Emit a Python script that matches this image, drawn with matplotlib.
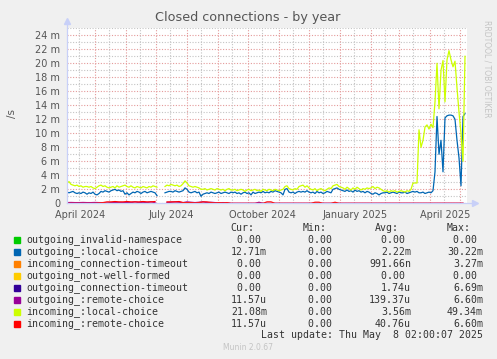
import numpy as np
import matplotlib
matplotlib.use("Agg")
import matplotlib.pyplot as plt
from matplotlib.patches import Rectangle

# time axis: 400 days ending Thu May 8 2025 02:00
start = np.datetime64("2024-04-03T02:00")
end = np.datetime64("2025-05-08T02:00")

# values in milli-connections per second, sampled every 2 days from start
nan = np.nan
local_out = [
    1.6, 1.5, 1.6, 1.7, 1.5, 1.4, 1.5, 1.4, 1.6, 1.5, 1.3, 1.5, 1.4, 1.6, 1.3, 1.2, 1.4, 1.7, 1.6, 1.8,
    1.7, 1.6, 1.8, 1.9, 2.0, 1.8, 1.9, 1.7, 1.8, 1.3, 1.5, 1.2, 1.4, 1.6, 1.5, 1.7, 1.6, 1.4, 1.6, 1.7,
    1.5, 1.6, 1.7, 1.6, 1.5, 1.1, nan, nan, nan, 1.5, 1.6, 1.7, 1.7, 1.6, 1.8, 1.7, 1.6, 1.7, 1.8, 2.2,
    2.0, 1.6, 1.5, 1.6, 1.7, 1.5, 1.6, 1.0, 1.3, 1.4, 1.5, 1.4, 1.6, 1.5, 1.4, 1.5, 1.6, 1.4, 1.5, 1.6,
    1.5, 1.4, 1.6, 1.5, 1.6, 1.4, 1.5, 1.3, 1.5, 1.6, 1.4, 1.5, 1.2, 1.6, 1.4, 1.5, 1.6, 1.5, 1.7, 1.5,
    1.6, 1.5, 1.7, 1.6, 1.8, 1.7, 1.6, 1.5, 1.2, 2.0, 2.1, 1.6, 1.5, 1.6, 1.4, 1.6, 1.7, 1.6, 1.7, 1.6,
    1.8, 1.6, 1.5, 1.6, 1.4, 1.7, 1.5, 1.6, 1.4, 1.5, 1.7, 1.6, 1.5, 2.0, 2.1, 2.2, 2.0, 1.9, 1.8, 1.7,
    1.9, 1.7, 1.8, 1.6, 1.9, 1.7, 1.8, 1.6, 1.7, 1.5, 1.7, 1.6, 1.4, 1.3, 1.5, 1.4, 1.2, 1.4, 1.5, 1.5,
    1.6, 1.4, 1.5, 1.6, 1.5, 1.4, 1.6, 1.5, 1.5, 1.6, 1.4, 1.5, 1.6, 1.7, 1.6, 1.7, 1.5, 1.5, 1.6, 1.4,
    1.5, 1.6, 1.5, 1.8, 4.5, 12.4, 7.0, 9.0, 4.5, 12.2, 12.5, 12.6, 12.6, 12.5, 12.0, 9.0, 6.5, 2.5, 12.4, 12.8,
]
local_in = [
    2.9, 3.1, 2.7, 2.6, 2.5, 2.6, 2.4, 2.5, 2.3, 2.4, 2.4, 2.3, 2.4, 2.2, 2.1, 2.3, 2.5, 2.6, 2.4, 2.5,
    2.3, 2.2, 2.3, 2.4, 2.2, 2.5, 2.3, 2.4, 2.5, 2.6, 2.4, 2.3, 2.5, 2.3, 2.2, 2.4, 2.3, 2.2, 2.4, 2.3,
    2.2, 2.4, 2.3, 2.5, 2.4, 2.3, nan, nan, nan, 2.4, 2.6, 2.5, 2.7, 2.6, 2.5, 2.6, 2.4, 2.5, 2.8, 3.2,
    2.9, 2.5, 2.4, 2.3, 2.4, 2.3, 2.2, 2.0, 2.0, 2.1, 1.9, 2.0, 2.1, 2.0, 1.9, 2.1, 2.0, 1.9, 2.0, 1.8,
    2.0, 2.1, 1.9, 1.9, 2.0, 1.8, 1.9, 2.0, 1.9, 1.7, 1.9, 2.0, 1.8, 1.9, 2.0, 1.8, 1.9, 1.7, 2.0, 1.9,
    1.8, 2.0, 1.9, 1.8, 2.0, 1.9, 1.8, 1.9, 2.0, 2.4, 2.5, 2.1, 2.0, 1.9, 2.1, 2.0, 2.4, 2.5, 2.6, 2.3,
    2.5, 2.2, 2.0, 1.9, 2.1, 1.8, 2.0, 2.1, 1.9, 1.8, 2.0, 2.2, 2.1, 2.5, 2.6, 2.7, 2.4, 2.3, 2.2, 2.0,
    2.3, 2.1, 1.9, 2.2, 2.0, 2.3, 2.1, 1.9, 2.1, 2.0, 2.2, 2.1, 2.2, 2.4, 2.1, 2.3, 2.2, 2.0, 1.8, 1.7,
    1.8, 1.6, 1.8, 1.7, 1.8, 1.6, 1.7, 1.8, 1.7, 1.6, 1.8, 1.7, 2.0, 2.9, 2.9, 2.9, 10.5, 8.0, 9.0, 10.9,
    11.2, 10.6, 11.3, 10.8, 14.5, 20.0, 13.5, 19.0, 20.4, 14.5, 20.5, 21.8, 20.5, 19.5, 20.3, 16.5, 13.0, 10.0, 6.0, 21.0,
]
# near-zero series, sampled every 4 days
remote_out = [
    0.1, 0.12, 0.1, 0.1, 0.12, 0.1, 0.1, 0.12, 0.1, 0.1, 0.05, 0.1, 0.1, 0.12, 0.1, 0.1, 0.1, 0.2, 0.1, 0.15,
    0.1, 0.2, 0.1, nan, nan, 0.1, 0.15, 0.2, 0.15, 0.1, 0.2, 0.15, 0.1, 0.15, 0.2, 0.1, 0.15, 0.1, 0.05, 0.1,
    0.05, 0, 0, 0, 0, 0, 0, 0, 0.15, 0, 0, 0, 0, 0, 0, 0, 0, 0, 0, 0,
    0, 0, 0, 0, 0, 0, 0, 0, 0, 0, 0, 0, 0, 0, 0, 0, 0, 0, 0, 0,
    0, 0, 0, 0, 0, 0, 0, 0, 0, 0, 0, 0, 0, 0, 0, 0, 0, 0, 0, 0,
]
remote_in = [
    0, 0, 0, 0, 0, 0, 0, 0, 0.05, 0.1, 0.2, 0.2, 0.25, 0.2, 0.2, 0.25, 0.2, 0.2, 0.2, 0.25,
    0.2, 0.2, 0.25, nan, nan, 0.2, 0.2, 0.2, 0.25, 0.1, 0.1, 0.1, 0.05, 0.1, 0.2, 0.2, 0.1, 0.05, 0.1, 0.05,
    0.1, 0, 0, 0, 0, 0, 0, 0, 0, 0, 0.2, 0.2, 0, 0, 0, 0, 0, 0, 0, 0,
    0, 0, 0.15, 0.15, 0, 0, 0, 0.15, 0, 0, 0, 0, 0, 0, 0, 0, 0, 0, 0, 0,
    0, 0, 0, 0, 0, 0, 0, 0, 0, 0, 0, 0, 0, 0, 0, 0, 0, 0, 0, 0,
]

legend_names = [
    "outgoing_invalid-namespace", "outgoing_:local-choice", "incoming_connection-timeout",
    "outgoing_not-well-formed", "outgoing_connection-timeout", "outgoing_:remote-choice",
    "incoming_:local-choice", "incoming_:remote-choice",
]
legend_colors = ["#00CC00", "#0066B3", "#FF8000", "#FFCC00", "#330099", "#990099", "#CCFF00", "#FF0000"]
cur_vals = ["0.00 ", "12.71m", "0.00 ", "0.00 ", "0.00 ", "11.57u", "21.08m", "11.57u"]
min_vals = ["0.00 "] * 8
avg_vals = ["0.00 ", "2.22m", "991.66n", "0.00 ", "1.74u", "139.37u", "3.56m", "40.76u"]
max_vals = ["0.00 ", "30.22m", "3.27m", "0.00 ", "6.69m", "6.60m", "49.34m", "6.60m"]

W, H = 497, 359
fig = plt.figure(figsize=(W / 100, H / 100), dpi=100, facecolor="#F0F0F0")
ax = fig.add_axes([67 / W, 1 - 203.3 / H, 400 / W, 175 / H])
ax.set_facecolor("white")

total_days = (end - start) / np.timedelta64(1, "D")
d2 = np.arange(len(local_out)) * 2
d4 = np.arange(len(remote_out)) * 4

ax.plot(d2, local_out, color="#0066B3", lw=0.9, zorder=3)
ax.plot(d4, remote_out, color="#990099", lw=0.9, zorder=3)
ax.plot(d2, local_in, color="#CCFF00", lw=0.9, zorder=4)
ax.plot(d4, remote_in, color="#FF0000", lw=0.9, zorder=5)

ax.set_xlim(0, total_days)
ax.set_ylim(0, 25)

# grid
minor_c = "#C4C4C4"
major_c = "#E49A9A"
dots = (0, (1, 1.5))
for v in range(1, 26, 2):
    ax.axhline(v, color=minor_c, lw=0.8, ls=dots, zorder=1)
for v in range(0, 25, 2):
    ax.axhline(v, color=major_c, lw=0.8, ls=dots, zorder=1)

months = np.arange(np.datetime64("2024-04"), np.datetime64("2025-06"))
for m in months:
    md = (m.astype("datetime64[m]") - start) / np.timedelta64(1, "D")
    mid = md + 14
    if 0 < mid < total_days:
        ax.axvline(mid, color=minor_c, lw=0.8, ls=dots, zorder=1)
    if 0 < md < total_days:
        ax.axvline(md, color=major_c, lw=0.8, ls=dots, zorder=1)

label_months = ["2024-04", "2024-07", "2024-10", "2025-01", "2025-04"]
label_text = ["April 2024", "July 2024", "October 2024", "January 2025", "April 2025"]
pos = [(np.datetime64(m + "-01T00:00") - start) / np.timedelta64(1, "D") + 15 for m in label_months]
ax.set_xticks(pos)
ax.set_xticklabels(label_text)
ax.set_yticks(range(0, 25, 2))
ax.set_yticklabels(["0"] + [f"{v} m" for v in range(2, 25, 2)])
ax.tick_params(length=0, labelsize=7, labelcolor="#555555", pad=5)

for s in ax.spines.values():
    s.set_visible(False)
axis_c = "#C8D0F8"
ax.plot([0, 0], [0, 1.035], color=axis_c, lw=0.9, transform=ax.transAxes, clip_on=False, zorder=6)
ax.plot([0, 1.015], [0, 0], color=axis_c, lw=0.9, transform=ax.transAxes, clip_on=False, zorder=6)
ax.plot([0], [1.04], marker="^", ms=4, color=axis_c, transform=ax.transAxes, clip_on=False)
ax.plot([1.02], [0], marker=">", ms=4, color=axis_c, transform=ax.transAxes, clip_on=False)

fig.text(248 / W, 1 - 18 / H, "Closed connections - by year", ha="center", va="center",
         fontsize=9.2, color="#555555")
fig.text(12 / W, 1 - 113 / H, "/s", rotation=90, ha="center", va="center", fontsize=7.5, color="#555555")
fig.text(487 / W, 1 - 20 / H, "RRDTOOL / TOBI OETIKER", rotation=270, ha="center", va="top",
         fontsize=5.5, color="#C4C4C4")

# legend
mono = dict(family="DejaVu Sans Mono", fontsize=7.1, color="#333333", va="center")
for x, t in zip([230, 303, 375, 447], ["Cur:", "Min:", "Avg:", "Max:"]):
    fig.text(x / W, 1 - 228 / H, t, ha="left", **mono)
for k, name in enumerate(legend_names):
    y = 240 + 12 * k
    fig.patches.append(Rectangle((14 / W, 1 - (y + 3) / H), 6 / W, 6 / H, color=legend_colors[k],
                                 transform=fig.transFigure, figure=fig))
    fig.text(26.5 / W, 1 - y / H, name, ha="left", **mono)
    for x, vals in zip([267, 338, 411, 483], [cur_vals, min_vals, avg_vals, max_vals]):
        fig.text(x / W, 1 - y / H, vals[k], ha="right", **mono)
fig.text(483 / W, 1 - 335 / H, "Last update: Thu May  8 02:00:07 2025", ha="right", **mono)
fig.text(248 / W, 1 - 348 / H, "Munin 2.0.67", ha="center", va="center", fontsize=5.5, color="#C4C4C4")

fig.savefig("out.png", dpi=100, facecolor=fig.get_facecolor())
